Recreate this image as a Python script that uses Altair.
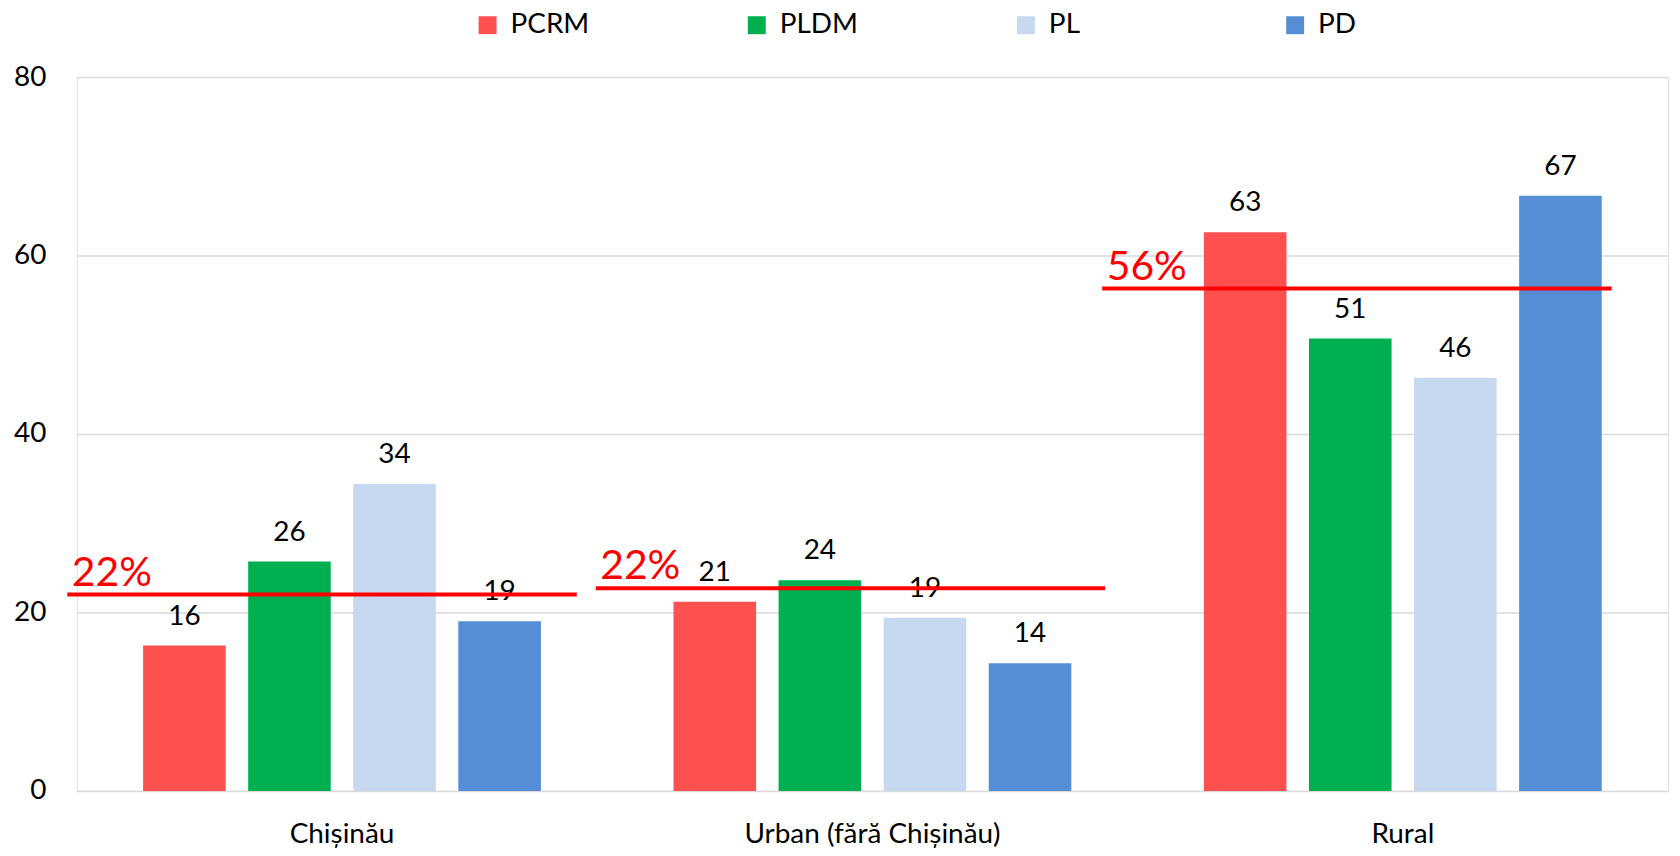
import altair as alt
import pandas as pd

categories = ["Chișinău", "Urban (fără Chișinău)", "Rural"]
parties = ["PCRM", "PLDM", "PL", "PD"]
colors = ["#FF5050", "#00B050", "#C6D9F1", "#558ED5"]
pcrm = [16.3, 21.2, 62.6]
pldm = [25.7, 23.6, 50.7]
pl = [34.4, 19.4, 46.3]
pd_vals = [19.0, 14.3, 66.7]
ref_values = [22.0, 22.7, 56.3]
ref_labels = ["22%", "22%", "56%"]
y_ticks = [0, 20, 40, 60, 80]

# style: horizontal shift (px) of each hand-drawn reference line
ref_shift = [-20, -22, -46]

FONT = "Lato"
FS = 28

series = {"PCRM": pcrm, "PLDM": pldm, "PL": pl, "PD": pd_vals}
rows = []
for p in parties:
    for c, v in zip(categories, series[p]):
        rows.append({"category": c, "party": p, "value": v, "label": str(int(round(v)))})
df = pd.DataFrame(rows)

ref_df = pd.DataFrame({"category": categories, "ref": ref_values, "txt": ref_labels})

x_enc = alt.X(
    "category:N",
    sort=categories,
    scale=alt.Scale(paddingInner=0.25, paddingOuter=0.125),
    axis=alt.Axis(title=None, labelAngle=0, domain=False, ticks=False,
                  labelFontSize=FS, labelFont=FONT, labelColor="#000000",
                  labelPadding=52, labelBaseline="alphabetic", labelLimit=600),
)
y_scale = alt.Scale(domain=[0, 80])

bars = alt.Chart(df).mark_bar().encode(
    x=x_enc,
    xOffset=alt.XOffset("party:N", sort=parties,
                        scale=alt.Scale(paddingInner=0.214, paddingOuter=0)),
    y=alt.Y("value:Q", scale=y_scale,
            axis=alt.Axis(values=y_ticks, title=None, domain=False, ticks=False,
                          gridColor="#D9D9D9", gridWidth=1.5,
                          labelFont=FONT, labelFontSize=FS,
                          labelColor="#000000", labelPadding=31)),
    color=alt.Color("party:N", sort=parties,
                    scale=alt.Scale(domain=parties, range=colors),
                    legend=alt.Legend(title=None, orient="none", direction="horizontal",
                                      columns=4, legendX=398, legendY=-66,
                                      symbolType="square", symbolSize=324,
                                      symbolStrokeWidth=0, symbolOpacity=1,
                                      labelFont=FONT, labelFontSize=FS,
                                      labelColor="#000000", labelOffset=9,
                                      gridAlign="all", columnPadding=153)),
)

labels = alt.Chart(df).mark_text(
    baseline="alphabetic", dy=-21, font=FONT, fontSize=FS, color="#000000"
).encode(
    x=alt.X("category:N", sort=categories),
    xOffset=alt.XOffset("party:N", sort=parties),
    y=alt.Y("value:Q", scale=y_scale),
    text="label:N",
)

layers = [bars, labels]
for i, c in enumerate(categories):
    base = alt.Chart(ref_df).transform_filter(alt.datum.category == c)
    line = base.mark_tick(color="#FF0000", size=511, thickness=4,
                          xOffset=ref_shift[i], opacity=1).encode(
        x=alt.X("category:N", sort=categories),
        y=alt.Y("ref:Q", scale=y_scale),
    )
    txt = base.mark_text(color="#FF0000", font=FONT, fontSize=41, align="left",
                         baseline="alphabetic", dx=ref_shift[i] - 251, dy=-9).encode(
        x=alt.X("category:N", sort=categories),
        y=alt.Y("ref:Q", scale=y_scale),
        text="txt:N",
    )
    layers += [line, txt]

chart = alt.layer(*layers).properties(
    width=1596, height=716,
    autosize=alt.AutoSizeParams(type="none"),
    padding={"left": 69, "top": 68, "right": 4, "bottom": 56},
).configure_view(stroke=None).configure(background="white")

chart.save("out.html", embed_options={"renderer": "svg", "actions": False})
